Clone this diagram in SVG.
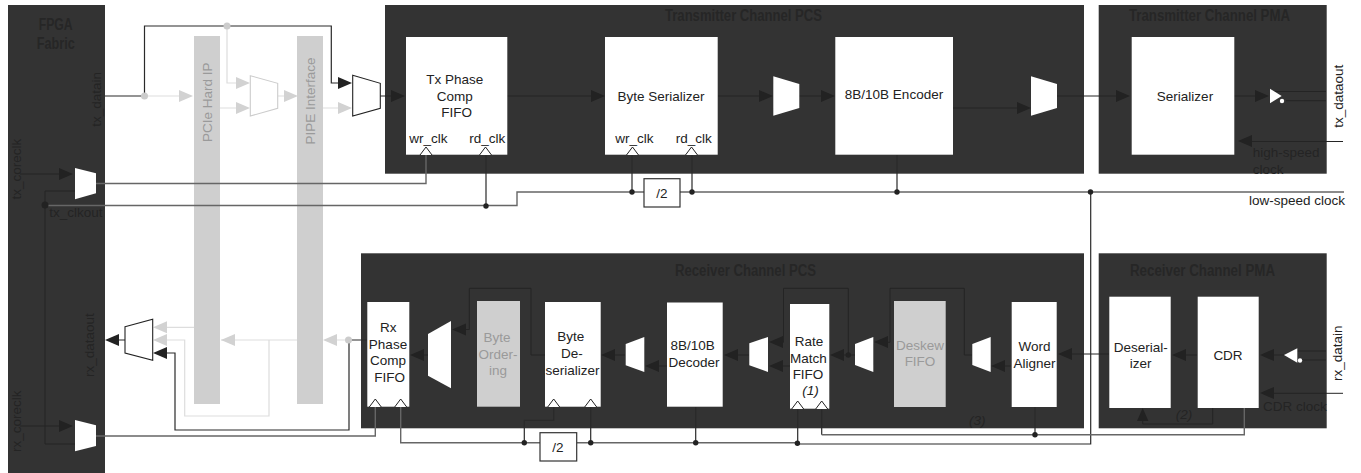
<svg xmlns="http://www.w3.org/2000/svg" width="1361" height="473" viewBox="0 0 1361 473">
<style>
.dk{fill:#333}
.wb{fill:#fff}
.gb{fill:#cfcfcf}
.t{font-family:"Liberation Sans",Arial,sans-serif;font-size:13.5px;fill:#222}
.gt{fill:#9a9a9a}
.dt{fill:#242424}
.hd{font-family:"Liberation Sans Narrow","Liberation Sans",sans-serif;font-weight:bold;font-size:16px;fill:#262626}
.c{text-anchor:middle}
.i{font-style:italic}
.ln{fill:none;stroke:#2a2a2a;stroke-width:1.2}
.ld{fill:none;stroke:#242424;stroke-width:1}
.lm{fill:none;stroke:#666;stroke-width:1.4}
.lg{fill:none;stroke:#ddd;stroke-width:1.2}
.ah{fill:#222}
.ag{fill:#d2d2d2}
.mw{fill:#fff}
.ms{fill:#fff;stroke:#222;stroke-width:1.1}
.mg{fill:#fff;stroke:#ccc;stroke-width:1.1}
.ck{fill:#fff;stroke:#222;stroke-width:1}
.dot{fill:#222}
.gd{fill:#ccc}
</style>
<defs>
<path id="ar" d="M0-6L14 0L0 6Z"/>
<path id="al" d="M14-6L0 0L14 6Z"/>
<path id="ckt" d="M-6 8L0 0L6 8"/>
</defs>

<g id="fpga-fabric"><rect class="dk" x="8" y="5" width="97" height="468"/>
<text class="hd" x="38.700" y="30" textLength="34" lengthAdjust="spacingAndGlyphs">FPGA</text><text class="hd" x="36.700" y="49" textLength="38" lengthAdjust="spacingAndGlyphs">Fabric</text>
<text class="t dt" transform="translate(101 126.700) rotate(-90)">tx_datain</text>
<text class="t dt" transform="translate(20.500 199.500) rotate(-90)">tx_coreclk</text>
<text class="t dt" x="49.300" y="217">tx_clkout</text>
<text class="t dt" transform="translate(94.300 377) rotate(-90)">rx_dataout</text>
<text class="t dt" transform="translate(20.700 452) rotate(-90)">rx_coreclk</text>
</g>
<g id="tx-pcs"><rect class="dk" x="385" y="5" width="699" height="168.700"/>
<text class="hd" x="665" y="21" textLength="157" lengthAdjust="spacingAndGlyphs">Transmitter Channel PCS</text></g>
<g id="tx-pma"><rect class="dk" x="1098.700" y="5" width="228" height="168.700"/>
<text class="hd" x="1129" y="21" textLength="161" lengthAdjust="spacingAndGlyphs">Transmitter Channel PMA</text></g>
<g id="rx-pcs"><rect class="dk" x="361" y="253.300" width="723" height="175"/>
<text class="hd" x="675" y="276" textLength="141" lengthAdjust="spacingAndGlyphs">Receiver Channel PCS</text></g>
<g id="rx-pma"><rect class="dk" x="1098.700" y="253.300" width="228" height="175"/>
<text class="hd" x="1130" y="276" textLength="145" lengthAdjust="spacingAndGlyphs">Receiver Channel PMA</text></g>

<g id="pcie-hard-ip"><rect class="gb" x="194" y="36" width="26" height="368"/>
<text class="t gt" transform="translate(212 142) rotate(-90)">PCIe Hard IP</text></g>
<g id="pipe-interface"><rect class="gb" x="297" y="36" width="26" height="368"/>
<text class="t gt" transform="translate(315 144.500) rotate(-90)">PIPE Interface</text></g>

<g id="connectors">
<path class="ln" d="M105 96H144.500V26H331.300V83H340"/>
<path class="lg" d="M145 96H180M227 26V83H236M220 108H236M278 96H285M323 108H338"/>
<path class="lg" d="M166 327.300H194M297 340H221M269 340V416H184.700V340H166M348.500 340H337"/>
<path class="ln" d="M367 340H349V430H175V353H165M125 340H118"/>
<path class="ld" d="M380 96H392M507 96H591M718 96H760M799 96H822M953 108H1018M1057 96H1118M1234 96H1256M1273 91.500H1326M1286 100.700H1326M1250 141.500H1343M20 174H60M45 191H75M45 191V444H75M20 426H60"/>
<path class="lm" d="M96 183.500H426V154M45 205.500H517V192H644M680 192H1344M96 436H375.300V407M400.700 407V442.700H540M577 442.700H797.500"/>
<path class="ln" d="M486 154V205.500M632 155V192M692 155V192M897 155V192M1090.700 192V444H797.500M553.700 407V420.300H524.300V442.700M590.700 407V442.700M695.700 407V442.700M797.700 408V443.300"/>
<path class="ln" d="M821.700 408V434.700"/>
<path class="lm" d="M821.700 434.700H1244.300V408"/>
<path class="ln" d="M1035 407V434.700"/>
<path class="ld" d="M1274 355H1284M1296 351H1326M1302 360H1326M1197 355H1184M1109 354H1070M1011 366H1003M972 355H964.300V288.300H890V342.300H886M855 355H841M848.300 355V288.300H783.500V342.300H781M790 366H781M749 355H736M667 366H657M625 355H613M545 355H531V288.300H469.300V329.500H464M428 355H422M1343 393.300H1272M1212.700 408V424H1142.700V420"/>
<g class="ah">
<use href="#ar" x="338" y="83"/><use href="#ar" x="391" y="96"/><use href="#ar" x="591" y="96"/><use href="#ar" x="759" y="96"/><use href="#ar" x="821" y="96"/><use href="#ar" x="1017" y="108"/><use href="#ar" x="1116" y="96"/><use href="#ar" x="1255" y="96"/><use href="#al" x="1238" y="141"/><use href="#ar" x="59" y="174"/><use href="#ar" x="59" y="426"/>
<use href="#al" x="105" y="340"/><use href="#al" x="153" y="353"/><use href="#al" x="410" y="355"/><use href="#al" x="452" y="329.500"/><use href="#al" x="601" y="355"/><use href="#al" x="645" y="366"/><use href="#al" x="724" y="355"/><use href="#al" x="769" y="342"/><use href="#al" x="769" y="366"/><use href="#al" x="830" y="355"/><use href="#al" x="874" y="342"/><use href="#al" x="991" y="366"/><use href="#al" x="1058" y="354"/><use href="#al" x="1172" y="355"/><use href="#al" x="1260" y="355"/><use href="#al" x="1260" y="393"/>
<path d="M1137 421L1142.700 408L1148.400 421Z"/>
</g>
<g class="ag">
<use href="#ar" x="179" y="96"/><use href="#ar" x="236" y="83"/><use href="#ar" x="236" y="108"/><use href="#ar" x="284" y="96"/><use href="#ar" x="338" y="108"/>
<use href="#al" x="153" y="327.300"/><use href="#al" x="153" y="340"/><use href="#al" x="221" y="340"/><use href="#al" x="323" y="340"/>
</g>
<g class="dot"><circle cx="45" cy="205" r="3.500"/><circle cx="486" cy="206" r="2.700"/><circle cx="632" cy="192" r="2.700"/><circle cx="692" cy="192" r="2.700"/><circle cx="897" cy="192" r="2.700"/><circle cx="1090.500" cy="192" r="2.700"/><circle cx="524.300" cy="442.700" r="2.700"/><circle cx="590.700" cy="442.700" r="2.700"/><circle cx="695.700" cy="442.700" r="2.700"/><circle cx="797.400" cy="443.300" r="2.700"/><circle cx="1035" cy="434.700" r="2.700"/><circle cx="848.300" cy="355" r="2.700"/></g>
<g class="gd"><circle cx="144.500" cy="96" r="3.500"/><circle cx="227" cy="26" r="3.500"/><circle cx="348.500" cy="340" r="3.500"/></g>
</g>

<g id="mux-tx-grey"><path class="mg" d="M250.300 75.700L277.700 83.300V108.300L250.300 116Z"/></g>
<g id="mux-tx"><path class="ms" d="M352.700 75.300L380.300 83.300V108.300L352.700 116Z"/></g>
<g id="mux-txclk"><path class="mw" d="M75 168L96 173.300V193.300L75 199.300Z"/></g>
<g id="mux-rxclk"><path class="mw" d="M75 420L96 425.300V446L75 451.300Z"/></g>
<g id="mux-rx-out"><path class="ms" d="M125 326.700L152.700 319.300V360.300L125 353Z"/></g>
<g id="mux-tx1"><path class="mw" d="M773.300 76.300L799.300 84V108L773.300 115.700Z"/></g>
<g id="mux-tx2"><path class="mw" d="M1031 76.300L1057 84V108L1031 115.700Z"/></g>
<g id="mux-rx-large"><path class="mw" d="M428 334L451 321V388.300L428 375.700Z"/></g>
<g id="mux-rx1"><path class="mw" d="M625.700 344L644.300 337V372L625.700 365.300Z"/></g>
<g id="mux-rx2"><path class="mw" d="M749.300 343.300L768 337V372L749.300 365.300Z"/></g>
<g id="mux-rx3"><path class="mw" d="M855 344L873.300 337V372L855 365Z"/></g>
<g id="mux-rx4"><path class="mw" d="M972.300 344L990.700 337V372L972.300 365Z"/></g>
<g id="tx-buffer"><path class="mw" d="M1270 88.700L1281.700 96L1270 103.300Z"/><circle class="mw" cx="1282" cy="101" r="2.200"/></g>
<g id="rx-buffer"><path class="mw" d="M1284 355L1297.300 348.300V362.700Z"/><circle class="mw" cx="1300" cy="360.500" r="2.200"/></g>

<g id="tx-phase-comp-fifo"><rect class="wb" x="406" y="37" width="101.300" height="117.700"/>
<text class="t c" x="454.700" y="84">Tx Phase</text><text class="t c" x="454.700" y="101">Comp</text><text class="t c" x="456.700" y="117">FIFO</text>
<text class="t" x="409.300" y="143.300">wr_clk</text><text class="t" x="469.300" y="143.300">rd_clk</text>
<use class="ck" href="#ckt" x="426" y="147"/><use class="ck" href="#ckt" x="485.500" y="147"/></g>
<g id="byte-serializer"><rect class="wb" x="605" y="37" width="112.700" height="117.700"/>
<text class="t c" x="661" y="101">Byte Serializer</text>
<text class="t" x="615.300" y="142.700">wr_clk</text><text class="t" x="675.700" y="142.700">rd_clk</text>
<use class="ck" href="#ckt" x="632.500" y="147"/><use class="ck" href="#ckt" x="691.500" y="147"/></g>
<g id="encoder"><rect class="wb" x="835.300" y="37" width="117.700" height="117.700"/><text class="t c" x="894" y="99">8B/10B Encoder</text></g>
<g id="serializer"><rect class="wb" x="1131.700" y="37" width="102.600" height="117.700"/><text class="t c" x="1185" y="101">Serializer</text></g>

<g id="rx-phase-comp-fifo"><rect class="wb" x="367.300" y="302" width="42" height="104.700"/>
<text class="t c" x="388.300" y="332">Rx</text><text class="t c" x="388" y="349">Phase</text><text class="t c" x="388" y="365">Comp</text><text class="t c" x="389.700" y="382">FIFO</text>
<use class="ck" href="#ckt" x="375.300" y="399"/><use class="ck" href="#ckt" x="400.700" y="399"/></g>
<g id="byte-ordering"><rect class="gb" x="477" y="301" width="43" height="105.700"/>
<text class="t c gt" x="497" y="342">Byte</text><text class="t c gt" x="498" y="359">Order-</text><text class="t c gt" x="498" y="375">ing</text></g>
<g id="byte-deserializer"><rect class="wb" x="545" y="302" width="55.700" height="104.700"/>
<text class="t c" x="570.700" y="341">Byte</text><text class="t c" x="572" y="358">De-</text><text class="t c" x="572.500" y="375">serializer</text>
<use class="ck" href="#ckt" x="553.700" y="399"/><use class="ck" href="#ckt" x="590.700" y="399"/></g>
<g id="decoder"><rect class="wb" x="667" y="302.500" width="55.700" height="104.200"/>
<text class="t c" x="692.700" y="350">8B/10B</text><text class="t c" x="694" y="367">Decoder</text></g>
<g id="rate-match-fifo"><rect class="wb" x="790" y="304" width="39.300" height="104.700"/>
<text class="t c" x="809" y="346">Rate</text><text class="t c" x="808.500" y="363">Match</text><text class="t c" x="808" y="379">FIFO</text><text class="t c i" x="810.500" y="395">(1)</text>
<use class="ck" href="#ckt" x="797.700" y="401"/><use class="ck" href="#ckt" x="821.700" y="401"/></g>
<g id="deskew-fifo"><rect class="gb" x="894" y="301" width="51.700" height="106"/>
<text class="t c gt" x="920" y="350">Deskew</text><text class="t c gt" x="920" y="366">FIFO</text></g>
<g id="word-aligner"><rect class="wb" x="1011.700" y="302" width="45" height="105"/>
<text class="t c" x="1034.500" y="351">Word</text><text class="t c" x="1034.500" y="368">Aligner</text></g>
<g id="deserializer"><rect class="wb" x="1109.300" y="296.700" width="61.400" height="111.300"/>
<text class="t c" x="1140.700" y="352">Deserial-</text><text class="t c" x="1140.700" y="368">izer</text></g>
<g id="cdr"><rect class="wb" x="1197.700" y="296.700" width="61" height="111.300"/><text class="t c" x="1228" y="360">CDR</text></g>

<g id="div2-tx"><rect x="644" y="178.700" width="36" height="28.300" fill="#fff" stroke="#333" stroke-width="1.200"/><text class="t c" x="662" y="198">/2</text></g>
<g id="div2-rx"><rect x="540" y="432.700" width="36.700" height="28.300" fill="#fff" stroke="#333" stroke-width="1.200"/><text class="t c" x="558" y="452">/2</text></g>

<g id="labels">
<text class="t" transform="translate(1343.300 127.700) rotate(-90)">tx_dataout</text>
<text class="t" transform="translate(1341.700 381) rotate(-90)">rx_datain</text>
<text class="t" x="1249" y="205">low-speed clock</text>
<text class="t dt" x="1252.700" y="157">high-speed</text><text class="t dt" x="1252.700" y="174">clock</text>
<text class="t dt" x="1263" y="411">CDR clock</text>
<text class="t dt i" x="1175.700" y="419">(2)</text>
<text class="t dt i" x="969" y="425">(3)</text>
</g>
</svg>
